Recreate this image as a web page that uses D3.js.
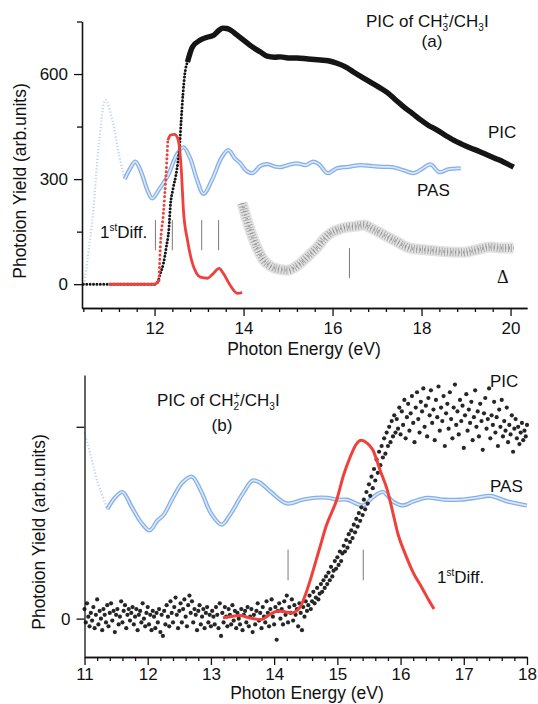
<!DOCTYPE html>
<html>
<head>
<meta charset="utf-8">
<script src="https://cdn.jsdelivr.net/npm/d3@7"></script>
<style>
  body { margin: 0; background: #fff; }
  svg { font-family: "Liberation Sans", Arial, sans-serif; }
  .axis path, .axis line { stroke: #111; stroke-width: 1.3; }
  .axis text { font-size: 17px; fill: #111; font-family: "Liberation Sans", Arial, sans-serif; }
</style>
</head>
<body>
<svg id="chart" width="538" height="704"></svg>
<script>
// ---- panel (a): CH3+ / CH3I ----
const aXMajor = [12, 14, 16, 18, 20];
const aXMinor = [10.4, 10.8, 11.2, 11.6, 12.4, 12.8, 13.2, 13.6, 14.4, 14.8, 15.2, 15.6, 16.4, 16.8, 17.2, 17.6, 18.4, 18.8, 19.2, 19.6];
const aYMajor = [0, 300, 600];
const aYMinor = [150, 450, 750];

// photoion yield curve [eV, counts]
const aPIC = [[10.4,0],[10.6,0],[10.8,0],[11.0,0],[11.2,0],[11.4,0],[11.6,0],[11.8,0],[12.0,0],[12.07,6],[12.13,30],
  [12.2,60],[12.27,110],[12.32,154],[12.36,230],[12.41,269],[12.5,326],[12.56,390],[12.6,470],[12.64,545],[12.68,600],
  [12.74,634],[12.85,677],[13.03,697],[13.18,705],[13.33,711],[13.45,725],[13.53,731],[13.62,730],[13.7,726],[13.85,712],
  [14.0,697],[14.15,682],[14.3,669],[14.38,663],[14.53,651],[14.7,648],[14.83,649],[15.0,646],[15.2,646],[15.45,643],
  [15.73,640],[15.9,638],[16.1,631],[16.3,620],[16.47,606],[16.65,592],[16.85,577],[17.05,562],[17.24,546],[17.42,526],
  [17.6,506],[17.8,487],[17.98,469],[18.15,454],[18.35,440],[18.55,424],[18.72,411],[18.9,400],[19.1,389],[19.3,379],
  [19.48,369],[19.66,359],[19.84,349],[20.07,334]];

// photoabsorption spectrum (scaled)
const aPAS = [[10.42,0],[10.6,180],[10.75,400],[10.9,526],[11.05,470],[11.2,370],[11.33,300],[11.45,330],[11.57,350],
  [11.7,320],[11.85,265],[11.95,245],[12.1,270],[12.3,310],[12.5,370],[12.65,391],[12.8,360],[12.95,300],[13.1,258],
  [13.3,300],[13.5,360],[13.66,383],[13.8,360],[13.93,345],[14.05,325],[14.2,317],[14.38,338],[14.54,343],[14.7,336],
  [14.83,334],[15.0,340],[15.2,345],[15.4,340],[15.57,350],[15.7,342],[15.89,317],[16.1,331],[16.35,335],[16.63,340],
  [16.9,337],[17.15,335],[17.37,334],[17.6,325],[17.82,317],[18.0,328],[18.2,342],[18.4,320],[18.6,328],[18.88,331]];

// first derivative of PIC
const aDiff = [[10.97,0],[11.5,0],[12.0,0],[12.1,11],[12.13,106],[12.2,203],[12.25,297],[12.3,411],[12.36,426],
  [12.45,428],[12.52,417],[12.55,400],[12.6,330],[12.65,210],[12.74,126],[12.85,60],[12.95,30],[13.03,20],[13.19,17],
  [13.3,28],[13.45,45],[13.55,30],[13.7,-3],[13.86,-26],[13.97,-24]];

// difference trace (Delta)
const aDelta = [[13.97,231],[14.05,195],[14.15,154],[14.3,105],[14.45,69],[14.6,52],[14.75,44],[14.99,40],[15.15,48],
  [15.28,60],[15.45,80],[15.66,106],[15.8,128],[15.96,146],[16.15,157],[16.33,163],[16.5,165],[16.7,169],[16.9,158],
  [17.08,146],[17.28,132],[17.46,120],[17.6,110],[17.75,103],[18.0,99],[18.2,97],[18.5,93],[18.94,91],[19.2,97],
  [19.55,106],[19.8,103],[20.07,103]];

// vertical markers [eV, from, to]
const aMarks = [[12.02,97,183],[12.4,97,183],[13.06,97,183],[13.44,97,183],[16.38,17,103]];

// ---- panel (b): CH2+ / CH3I ----
const bXMajor = [11, 12, 13, 14, 15, 16, 17, 18];
const bXMinor = [11.2,11.4,11.6,11.8,12.2,12.4,12.6,12.8,13.2,13.4,13.6,13.8,14.2,14.4,14.6,14.8,15.2,15.4,15.6,15.8,
  16.2,16.4,16.6,16.8,17.2,17.4,17.6,17.8];
const bYMajor = [0, 1];

const bPIC = [[11.00,0.05],[11.02,-0.02],[11.04,0.08],[11.06,0.01],[11.08,-0.04],[11.10,0.03],[11.12,-0.01],[11.14,0.06],
  [11.16,-0.05],[11.18,0.02],[11.20,0.10],[11.22,-0.03],[11.24,0.04],[11.26,0.00],[11.28,-0.06],[11.30,0.05],[11.32,0.02],
  [11.34,-0.02],[11.36,0.07],[11.38,-0.04],[11.40,0.03],[11.42,0.08],[11.44,-0.01],[11.46,0.04],[11.48,-0.07],[11.50,0.02],
  [11.52,0.05],[11.54,-0.03],[11.56,0.01],[11.58,0.09],[11.60,-0.02],[11.62,0.04],[11.64,0.07],[11.66,-0.05],[11.68,0.02],
  [11.70,0.05],[11.72,-0.01],[11.74,0.03],[11.76,0.06],[11.78,-0.03],[11.80,0.01],[11.82,0.05],[11.84,-0.06],[11.86,0.02],
  [11.88,0.04],[11.90,-0.02],[11.92,0.08],[11.94,0.00],[11.96,-0.04],[11.98,0.03],[12.00,0.06],[12.02,-0.03],[12.04,0.02],
  [12.06,-0.06],[12.08,0.04],[12.10,0.01],[12.12,-0.05],[12.14,0.03],[12.16,-0.02],[12.18,0.05],[12.20,-0.07],[12.22,0.02],
  [12.24,-0.09],[12.26,0.04],[12.28,-0.03],[12.30,0.07],[12.32,0.01],[12.34,-0.04],[12.36,0.09],[12.38,0.03],[12.40,-0.02],
  [12.42,0.06],[12.44,0.11],[12.46,0.02],[12.48,-0.05],[12.50,0.04],[12.52,0.08],[12.54,-0.02],[12.56,0.05],[12.58,0.10],
  [12.60,0.01],[12.62,-0.04],[12.64,0.07],[12.66,0.12],[12.68,0.03],[12.70,0.09],[12.72,-0.02],[12.74,0.05],[12.76,0.02],
  [12.78,-0.06],[12.80,0.04],[12.82,0.07],[12.84,-0.03],[12.86,0.01],[12.88,0.05],[12.90,-0.05],[12.92,0.03],[12.94,0.06],
  [12.96,-0.02],[12.98,0.02],[13.00,-0.04],[13.02,0.04],[13.04,0.01],[13.06,-0.03],[13.08,0.06],[13.10,0.02],[13.12,-0.05],
  [13.14,0.08],[13.16,-0.09],[13.18,0.03],[13.20,-0.02],[13.22,0.06],[13.24,0.01],[13.26,-0.04],[13.28,0.05],[13.30,0.02],
  [13.32,-0.03],[13.34,0.07],[13.36,-0.01],[13.38,0.04],[13.40,-0.05],[13.42,0.03],[13.44,0.00],[13.46,-0.03],[13.48,0.05],
  [13.50,-0.06],[13.52,0.02],[13.54,0.04],[13.56,-0.02],[13.58,0.06],[13.60,-0.04],[13.62,0.01],[13.64,0.05],[13.66,-0.07],
  [13.68,0.02],[13.70,-0.03],[13.72,0.04],[13.74,0.08],[13.76,-0.01],[13.78,0.03],[13.80,-0.05],[13.82,0.06],[13.84,0.01],
  [13.86,-0.02],[13.88,0.09],[13.90,0.03],[13.92,-0.04],[13.94,0.05],[13.96,0.10],[13.98,0.01],[14.00,-0.03],[14.02,0.06],
  [14.04,-0.11],[14.06,0.04],[14.08,0.08],[14.10,0.00],[14.12,0.05],[14.14,-0.03],[14.16,0.09],[14.18,0.02],[14.20,0.12],
  [14.22,-0.02],[14.24,0.06],[14.26,0.03],[14.28,0.10],[14.30,-0.01],[14.32,0.07],[14.34,0.02],[14.36,0.05],[14.38,-0.04],
  [14.40,0.08],[14.42,0.03],[14.44,-0.06],[14.46,0.06],[14.48,0.01],[14.50,0.09],[14.52,0.04],[14.54,0.07],[14.56,0.12],
  [14.58,0.05],[14.60,0.09],[14.62,0.14],[14.64,0.08],[14.66,0.11],[14.68,0.16],[14.70,0.10],[14.72,0.13],[14.74,0.18],
  [14.76,0.14],[14.78,0.20],[14.80,0.16],[14.82,0.22],[14.84,0.18],[14.86,0.24],[14.88,0.20],[14.90,0.27],[14.92,0.22],
  [14.94,0.25],[14.96,0.30],[14.98,0.26],[15.00,0.32],[15.02,0.28],[15.04,0.35],[15.06,0.30],[15.08,0.34],[15.10,0.38],
  [15.12,0.35],[15.14,0.41],[15.16,0.37],[15.18,0.44],[15.20,0.40],[15.22,0.46],[15.24,0.42],[15.26,0.49],[15.28,0.45],
  [15.30,0.52],[15.32,0.48],[15.34,0.55],[15.36,0.51],[15.38,0.58],[15.40,0.54],[15.42,0.62],[15.44,0.57],[15.46,0.66],
  [15.48,0.60],[15.50,0.70],[15.52,0.64],[15.54,0.74],[15.56,0.68],[15.58,0.78],[15.60,0.72],[15.62,0.83],[15.64,0.76],
  [15.66,0.87],[15.68,0.80],[15.70,0.90],[15.72,0.84],[15.74,0.94],[15.76,0.86],[15.78,0.97],[15.80,0.90],[15.82,1.00],
  [15.84,0.92],[15.86,1.03],[15.88,0.95],[15.90,1.06],[15.92,0.97],[15.94,1.04],[15.96,0.99],[15.98,1.10],[16.00,0.96],
  [16.02,1.08],[16.04,1.01],[16.06,1.14],[16.08,0.94],[16.10,1.05],[16.12,1.12],[16.14,0.98],[16.16,1.07],[16.18,1.16],
  [16.20,1.02],[16.22,0.92],[16.24,1.10],[16.26,1.18],[16.28,1.04],[16.30,0.97],[16.32,1.13],[16.34,1.08],[16.36,1.20],
  [16.38,1.00],[16.40,1.11],[16.42,0.95],[16.44,1.15],[16.46,1.06],[16.48,1.19],[16.50,1.02],[16.52,1.09],[16.54,0.93],
  [16.56,1.14],[16.58,1.05],[16.60,1.21],[16.62,0.98],[16.64,1.10],[16.66,1.03],[16.68,1.16],[16.70,0.90],[16.72,1.07],
  [16.74,1.12],[16.76,0.99],[16.78,1.18],[16.80,1.04],[16.82,0.94],[16.84,1.10],[16.86,1.22],[16.88,1.01],[16.90,1.08],
  [16.92,0.96],[16.94,1.14],[16.96,1.03],[16.98,1.11],[17.00,0.89],[17.02,1.06],[17.04,1.17],[17.06,0.98],[17.08,1.09],
  [17.10,1.02],[17.12,1.13],[17.14,0.93],[17.16,1.05],[17.18,1.19],[17.20,1.00],[17.22,1.08],[17.24,0.95],[17.26,1.12],
  [17.28,1.03],[17.30,0.88],[17.32,1.07],[17.34,1.15],[17.36,0.99],[17.38,1.04],[17.40,1.20],[17.42,0.94],[17.44,1.06],
  [17.46,1.01],[17.48,1.13],[17.50,0.97],[17.52,1.05],[17.54,0.90],[17.56,1.09],[17.58,1.00],[17.60,1.14],[17.62,0.95],
  [17.64,1.03],[17.66,0.98],[17.68,1.10],[17.70,0.92],[17.72,1.01],[17.74,0.96],[17.76,1.06],[17.78,0.87],[17.80,0.99],
  [17.82,1.04],[17.84,0.94],[17.86,1.00],[17.88,0.91],[17.90,0.97],[17.92,1.02],[17.94,0.93],[17.96,0.98],[17.98,0.95],
  [18.00,1.01]];

const bPAS = [[11.0,0.97],[11.1,0.85],[11.2,0.72],[11.36,0.57],[11.48,0.63],[11.6,0.66],[11.75,0.58],[11.9,0.5],[12.03,0.46],
  [12.15,0.51],[12.25,0.54],[12.4,0.63],[12.55,0.71],[12.7,0.74],[12.85,0.66],[13.0,0.55],[13.17,0.49],[13.3,0.54],
  [13.5,0.65],[13.66,0.72],[13.77,0.71],[13.95,0.66],[14.2,0.6],[14.45,0.62],[14.65,0.63],[14.84,0.63],[15.0,0.62],
  [15.15,0.62],[15.41,0.59],[15.55,0.63],[15.72,0.66],[15.88,0.61],[16.04,0.59],[16.2,0.61],[16.42,0.63],[16.7,0.62],
  [16.94,0.62],[17.2,0.63],[17.42,0.64],[17.7,0.61],[18.0,0.59]];

const bDiff = [[13.19,0.005],[13.3,0.01],[13.46,0.016],[13.6,0.005],[13.79,-0.005],[13.95,0.025],[14.06,0.04],[14.18,0.035],
  [14.28,0.03],[14.41,0.06],[14.49,0.12],[14.58,0.21],[14.66,0.3],[14.74,0.39],[14.82,0.48],[14.99,0.62],[15.1,0.75],
  [15.2,0.84],[15.3,0.91],[15.38,0.93],[15.47,0.915],[15.56,0.88],[15.68,0.77],[15.79,0.67],[15.88,0.55],[15.96,0.44],
  [16.07,0.34],[16.2,0.24],[16.34,0.16],[16.44,0.1],[16.53,0.05]];

const bMarks = [[14.22,0.2,0.36],[15.41,0.2,0.36]];

const svg = d3.select("#chart");

const C = { pic: "#151515", pasEdge: "#86afe8", pasCore: "#dbe8fa", diff: "#f0403c", mark: "#7a7a7a" };

function axes(g, x, y, o) {
  const h0 = y.range()[0];
  g.append("g").attr("class", "axis").attr("transform", `translate(0,${h0})`)
    .call(d3.axisBottom(x).tickValues(o.xMinor).tickSize(4).tickSizeOuter(0).tickFormat(""));
  g.append("g").attr("class", "axis").attr("transform", `translate(0,${h0})`)
    .call(d3.axisBottom(x).tickValues(o.xMajor).tickSize(8).tickPadding(o.xPad).tickSizeOuter(0).tickFormat(d3.format("d")));
  const x0 = x.range()[0];
  if (o.yMinor) g.append("g").attr("class", "axis").attr("transform", `translate(${x0},0)`)
    .call(d3.axisLeft(y).tickValues(o.yMinor).tickSize(5).tickSizeOuter(0).tickFormat(""));
  g.append("g").attr("class", "axis").attr("transform", `translate(${x0},0)`)
    .call(d3.axisLeft(y).tickValues(o.yMajor).tickSize(8).tickPadding(6).tickSizeOuter(0).tickFormat(o.yFmt));
  g.selectAll(".axis text").style("font-size", "17px");
}

function axisLabels(g, o) {
  g.append("text").attr("x", o.xl[0]).attr("y", o.xl[1]).attr("text-anchor", "middle")
    .attr("font-size", 17.5).attr("fill", "#111").text("Photon Energy (eV)");
  g.append("text").attr("transform", `translate(${o.yl[0]},${o.yl[1]}) rotate(-90)`).attr("text-anchor", "middle")
    .attr("font-size", 17.5).attr("fill", "#111").text("Photoion Yield (arb.units)");
}

function pasLine(g, data, x, y, faintTo) {
  const line = d3.line().x(d => x(d[0])).y(d => y(d[1])).curve(d3.curveCatmullRom);
  const faint = data.filter(d => d[0] <= faintTo);
  const main = data.filter(d => d[0] >= faintTo);
  g.append("path").attr("d", line(faint)).attr("fill", "none").attr("stroke", C.pasEdge)
    .attr("stroke-width", 2.2).attr("stroke-dasharray", "1.2,2").attr("opacity", 0.55);
  g.append("path").attr("d", line(main)).attr("fill", "none").attr("stroke", C.pasEdge).attr("stroke-width", 4.2);
  g.append("path").attr("d", line(main)).attr("fill", "none").attr("stroke", C.pasCore).attr("stroke-width", 1.6);
}

function marks(g, data, x, y) {
  g.selectAll(null).data(data).join("line")
    .attr("x1", d => x(d[0])).attr("x2", d => x(d[0])).attr("y1", d => y(d[1])).attr("y2", d => y(d[2]))
    .attr("stroke", C.mark).attr("stroke-width", 1);
}

function label(g, x, y, t, size) {
  return g.append("text").attr("x", x).attr("y", y).attr("font-size", size || 17).attr("fill", "#111").text(t);
}

function diffLabel(g, x, y) {
  const t = g.append("text").attr("x", x).attr("y", y).attr("font-size", 17).attr("fill", "#111");
  t.append("tspan").text("1");
  t.append("tspan").attr("font-size", 10).attr("dy", -7).text("st");
  t.append("tspan").attr("dy", 7).text("Diff.");
}

function title(g, x, y, ion) {
  const t = g.append("text").attr("x", x).attr("y", y).attr("font-size", 17).attr("fill", "#111");
  t.append("tspan").text("PIC of CH");
  t.append("tspan").attr("font-size", 10).attr("dy", 4).text(ion);
  t.append("tspan").attr("font-size", 11).attr("dx", -5.5).attr("dy", -11).text("+");
  t.append("tspan").attr("dy", 7).text("/CH");
  t.append("tspan").attr("font-size", 10).attr("dy", 4).text("3");
  t.append("tspan").attr("dy", -4).text("I");
}

// ---------- panel (a) ----------
{
  const g = svg.append("g");
  const x = d3.scaleLinear().domain([10.37, 20.37]).range([82, 527]);
  const y = d3.scaleLinear().domain([-68, 750]).range([308, 21.5]);
  const line = d3.line().x(d => x(d[0])).y(d => y(d[1])).curve(d3.curveMonotoneX);

  // Delta: band of hollow grey triangles
  g.append("path").attr("d", line(aDelta)).attr("fill", "none").attr("stroke", "#e2e2e2").attr("stroke-width", 11);
  g.append("path").attr("d", line(aDelta)).attr("fill", "none").attr("stroke", "#a4a4a4")
    .attr("stroke-width", 8).attr("stroke-dasharray", "0.9,1.9");
  g.append("path").attr("d", line(aDelta)).attr("fill", "none").attr("stroke", "#8c8c8c")
    .attr("stroke-width", 3).attr("stroke-dasharray", "0.8,3.1");

  pasLine(g, aPAS, x, y, 11.33);

  // PIC: dotted along baseline/rise, dense band afterwards
  g.append("path").attr("d", line(aPIC.filter(d => d[0] <= 12.74))).attr("fill", "none").attr("stroke", C.pic)
    .attr("stroke-width", 3).attr("stroke-linecap", "round").attr("stroke-dasharray", "0,3.4");
  g.append("path").attr("d", line(aPIC.filter(d => d[0] >= 12.74))).attr("fill", "none").attr("stroke", C.pic)
    .attr("stroke-width", 5.4).attr("stroke-linejoin", "round");

  g.append("path").attr("d", line(aDiff.filter(d => d[0] <= 12.1))).attr("fill", "none").attr("stroke", C.diff).attr("stroke-width", 3);
  g.append("path").attr("d", line(aDiff.filter(d => d[0] >= 12.1 && d[0] <= 12.3))).attr("fill", "none").attr("stroke", C.diff)
    .attr("stroke-width", 3).attr("stroke-linecap", "round").attr("stroke-dasharray", "0,4.2");
  g.append("path").attr("d", line(aDiff.filter(d => d[0] >= 12.3))).attr("fill", "none").attr("stroke", C.diff).attr("stroke-width", 2.8);

  marks(g, aMarks, x, y);
  axes(g, x, y, { xMajor: aXMajor, xMinor: aXMinor, yMajor: aYMajor, yMinor: aYMinor, yFmt: d3.format("d"), xPad: 6 });
  axisLabels(g, { xl: [304, 355], yl: [25.5, 181] });

  title(g, 366, 27, "3");
  g.append("text").attr("x", 432).attr("y", 47).attr("text-anchor", "middle").attr("font-size", 17).attr("fill", "#111").text("(a)");
  label(g, 488, 138, "PIC");
  label(g, 417, 196, "PAS");
  diffLabel(g, 100, 238);
  g.append("text").attr("x", 497).attr("y", 283).attr("font-size", 18).attr("fill", "#111")
    .attr("font-family", "'Liberation Serif', serif").text("Δ");
}

// ---------- panel (b) ----------
{
  const g = svg.append("g");
  const x = d3.scaleLinear().domain([11, 18]).range([84.5, 527]);
  const y = d3.scaleLinear().domain([-0.2, 1.27]).range([657, 375]);

  pasLine(g, bPAS, x, y, 11.36);

  g.selectAll(null).data(bPIC).join("circle")
    .attr("cx", d => x(d[0])).attr("cy", d => y(d[1])).attr("r", 2.1).attr("fill", "#262626");

  const dline = d3.line().x(d => x(d[0])).y(d => y(d[1])).curve(d3.curveMonotoneX);
  g.append("path").attr("d", dline(bDiff)).attr("fill", "none").attr("stroke", C.diff).attr("stroke-width", 3);

  marks(g, bMarks, x, y);
  axes(g, x, y, { xMajor: bXMajor, xMinor: bXMinor, yMajor: bYMajor, yFmt: d => (d === 0 ? "0" : ""), xPad: 3 });
  axisLabels(g, { xl: [307, 699], yl: [45, 532] });

  title(g, 157, 406, "2");
  g.append("text").attr("x", 222).attr("y", 431).attr("text-anchor", "middle").attr("font-size", 17).attr("fill", "#111").text("(b)");
  label(g, 490, 387, "PIC");
  label(g, 490, 492, "PAS");
  diffLabel(g, 437, 583);
}
</script>
</body>
</html>
